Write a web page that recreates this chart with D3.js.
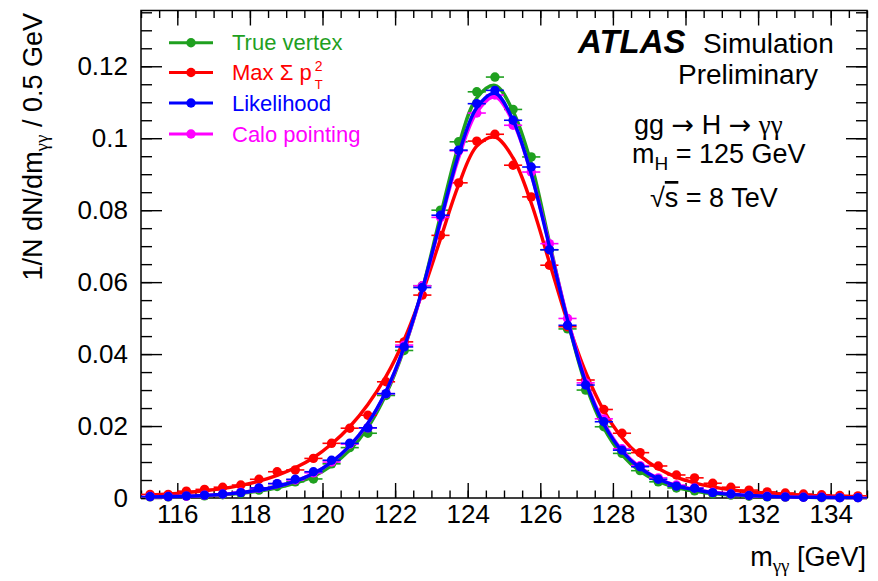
<!DOCTYPE html>
<html>
<head>
<meta charset="utf-8">
<script src="https://cdn.jsdelivr.net/npm/d3@7"></script>
<style>
body { margin: 0; background: #fff; }
svg { font-family: "Liberation Sans", Arial, Helvetica, sans-serif; }
.greek { font-family: "Liberation Serif", "DejaVu Serif", serif; }
.arrow { font-family: "DejaVu Sans", sans-serif; }
</style>
</head>
<body>
<svg width="878" height="581"></svg>
<script>
// bin centres, 0.5 GeV bins
const MASS = [115.25, 115.75, 116.25, 116.75, 117.25, 117.75, 118.25, 118.75, 119.25, 119.75,
              120.25, 120.75, 121.25, 121.75, 122.25, 122.75, 123.25, 123.75, 124.25, 124.75,
              125.25, 125.75, 126.25, 126.75, 127.25, 127.75, 128.25, 128.75, 129.25, 129.75,
              130.25, 130.75, 131.25, 131.75, 132.25, 132.75, 133.25, 133.75, 134.25, 134.75];

// points (1/N dN/dm)
const TRUE_VERTEX = [0.0003, 0.0003, 0.0005, 0.0006, 0.0009, 0.0013, 0.0022, 0.0032, 0.0045, 0.0053,
                     0.0095, 0.0140, 0.0180, 0.0285, 0.0410, 0.0590, 0.0800, 0.0990, 0.1129, 0.1170,
                     0.1080, 0.0948, 0.0690, 0.0470, 0.0300, 0.0198, 0.0124, 0.0076, 0.0045, 0.0028,
                     0.0020, 0.0012, 0.0008, 0.0005, 0.0003, 0.0002, 0.0002, 0.0001, 0.0001, 0.0001];
const MAX_SUMPT2 = [0.0010, 0.0010, 0.0019, 0.0024, 0.0030, 0.0036, 0.0052, 0.0073, 0.0078, 0.0110,
                    0.0152, 0.0194, 0.0230, 0.0323, 0.0434, 0.0564, 0.0730, 0.0876, 0.0992, 0.1011,
                    0.0925, 0.0837, 0.0647, 0.0476, 0.0328, 0.0246, 0.0180, 0.0126, 0.0089, 0.0064,
                    0.0056, 0.0041, 0.0030, 0.0022, 0.0017, 0.0014, 0.0011, 0.0009, 0.0007, 0.0006];
const LIKELIHOOD = [0.0004, 0.0004, 0.0006, 0.0008, 0.0011, 0.0015, 0.0028, 0.0040, 0.0052, 0.0073,
                    0.0105, 0.0152, 0.0195, 0.0290, 0.0420, 0.0585, 0.0786, 0.0967, 0.1096, 0.1133,
                    0.1050, 0.0920, 0.0690, 0.0480, 0.0314, 0.0212, 0.0133, 0.0087, 0.0052, 0.0033,
                    0.0027, 0.0015, 0.0011, 0.0007, 0.0004, 0.0003, 0.0002, 0.0002, 0.0001, 0.0001];
const CALO_POINTING = [0.0004, 0.0004, 0.0005, 0.0008, 0.0011, 0.0016, 0.0027, 0.0040, 0.0050, 0.0070,
                       0.0100, 0.0150, 0.0195, 0.0290, 0.0425, 0.0590, 0.0780, 0.0965, 0.1070, 0.1120,
                       0.1036, 0.0906, 0.0707, 0.0499, 0.0320, 0.0220, 0.0137, 0.0090, 0.0056, 0.0036,
                       0.0028, 0.0016, 0.0011, 0.0007, 0.0005, 0.0003, 0.0002, 0.0002, 0.0001, 0.0001];

// fitted curves read at the same bin centres
const FIT_TRUE_VERTEX = [0.0002, 0.0003, 0.0004, 0.0006, 0.0009, 0.0013, 0.0019, 0.0028, 0.0041, 0.0060,
                         0.0090, 0.0133, 0.0196, 0.0288, 0.0415, 0.0580, 0.0785, 0.0980, 0.1112, 0.1147,
                         0.1075, 0.0930, 0.0712, 0.0495, 0.0315, 0.0195, 0.0120, 0.0074, 0.0046, 0.0029,
                         0.0019, 0.0012, 0.0008, 0.0005, 0.0004, 0.0003, 0.0002, 0.0001, 0.0001, 0.0001];
const FIT_MAX_SUMPT2 = [0.0008, 0.0011, 0.0015, 0.0020, 0.0026, 0.0035, 0.0047, 0.0063, 0.0084, 0.0112,
                        0.0150, 0.0198, 0.0260, 0.0338, 0.0440, 0.0570, 0.0720, 0.0870, 0.0978, 0.1003,
                        0.0945, 0.0820, 0.0655, 0.0490, 0.0350, 0.0243, 0.0168, 0.0117, 0.0082, 0.0058,
                        0.0042, 0.0031, 0.0023, 0.0017, 0.0013, 0.0010, 0.0008, 0.0006, 0.0005, 0.0004];
const FIT_LIKELIHOOD = [0.0003, 0.0004, 0.0005, 0.0007, 0.0010, 0.0015, 0.0022, 0.0032, 0.0047, 0.0068,
                        0.0100, 0.0145, 0.0208, 0.0297, 0.0420, 0.0580, 0.0770, 0.0955, 0.1085, 0.1125,
                        0.1050, 0.0900, 0.0700, 0.0495, 0.0322, 0.0205, 0.0130, 0.0083, 0.0053, 0.0034,
                        0.0023, 0.0015, 0.0010, 0.0007, 0.0005, 0.0003, 0.0002, 0.0002, 0.0001, 0.0001];
const FIT_CALO_POINTING = [0.0003, 0.0004, 0.0005, 0.0007, 0.0010, 0.0015, 0.0022, 0.0032, 0.0047, 0.0068,
                           0.0100, 0.0145, 0.0207, 0.0295, 0.0418, 0.0576, 0.0765, 0.0945, 0.1072, 0.1115,
                           0.1045, 0.0900, 0.0705, 0.0500, 0.0328, 0.0210, 0.0133, 0.0085, 0.0054, 0.0035,
                           0.0024, 0.0016, 0.0011, 0.0007, 0.0005, 0.0003, 0.0002, 0.0002, 0.0001, 0.0001];

const X_TICKS = [116, 118, 120, 122, 124, 126, 128, 130, 132, 134];
const Y_TICKS = [0, 0.02, 0.04, 0.06, 0.08, 0.1, 0.12];
const Y_TICK_LABELS = ['0', '0.02', '0.04', '0.06', '0.08', '0.1', '0.12'];

const SERIES = [
    { label: 'True vertex',   color: '#1fa01f', points: TRUE_VERTEX,   fit: FIT_TRUE_VERTEX },
    { label: 'Max Σ p',       color: '#ff0000', points: MAX_SUMPT2,    fit: FIT_MAX_SUMPT2 },
    { label: 'Likelihood',    color: '#0000ff', points: LIKELIHOOD,    fit: FIT_LIKELIHOOD },
    { label: 'Calo pointing', color: '#ff00ff', points: CALO_POINTING, fit: FIT_CALO_POINTING },
];
const DRAW_ORDER = [0, 1, 3, 2]; // blue ends up on top

const PARAMS = { left: 141, right: 867, top: 10.5, bottom: 498 };

const svg = d3.select('svg');

const x = d3.scaleLinear().domain([115, 135]).range([PARAMS.left, PARAMS.right]);
const y = d3.scaleLinear().domain([0, 0.1355]).range([PARAMS.bottom, PARAMS.top]);

// ---- axes (ticks on all four sides, pointing inwards)
function styleAxis(g, fontSize) {
    g.select('.domain').remove();
    g.selectAll('.tick line').attr('stroke', '#000').attr('stroke-width', 1.4);
    g.selectAll('.tick text')
        .attr('fill', '#000')
        .style('font-size', fontSize + 'px')
        .style('font-family', '"Liberation Sans", Arial, sans-serif');
}
const xMinor = d3.range(115, 135.001, 0.5);
const yMinor = d3.range(0, 0.1355, 0.005);

svg.append('g').attr('transform', `translate(0,${PARAMS.bottom})`)
    .call(d3.axisBottom(x).tickValues(xMinor).tickSize(-7.5).tickFormat(''))
    .call(g => styleAxis(g, 26));
svg.append('g').attr('transform', `translate(0,${PARAMS.bottom})`)
    .call(d3.axisBottom(x).tickValues(X_TICKS).tickSize(-15).tickPadding(7).tickFormat(d3.format('d')))
    .call(g => styleAxis(g, 26));
svg.append('g').attr('transform', `translate(0,${PARAMS.top})`)
    .call(d3.axisTop(x).tickValues(xMinor).tickSize(-7.5).tickFormat(''))
    .call(g => styleAxis(g, 26));
svg.append('g').attr('transform', `translate(0,${PARAMS.top})`)
    .call(d3.axisTop(x).tickValues(X_TICKS).tickSize(-15).tickFormat(''))
    .call(g => styleAxis(g, 26));

svg.append('g').attr('transform', `translate(${PARAMS.left},0)`)
    .call(d3.axisLeft(y).tickValues(yMinor).tickSize(-11).tickFormat(''))
    .call(g => styleAxis(g, 26));
svg.append('g').attr('transform', `translate(${PARAMS.left},0)`)
    .call(d3.axisLeft(y).tickValues(Y_TICKS).tickSize(-21).tickPadding(13).tickFormat((d, i) => Y_TICK_LABELS[i]))
    .call(g => styleAxis(g, 26));
svg.append('g').attr('transform', `translate(${PARAMS.right},0)`)
    .call(d3.axisRight(y).tickValues(yMinor).tickSize(-11).tickFormat(''))
    .call(g => styleAxis(g, 26));
svg.append('g').attr('transform', `translate(${PARAMS.right},0)`)
    .call(d3.axisRight(y).tickValues(Y_TICKS).tickSize(-21).tickFormat(''))
    .call(g => styleAxis(g, 26));

svg.append('rect')
    .attr('x', PARAMS.left).attr('y', PARAMS.top)
    .attr('width', PARAMS.right - PARAMS.left).attr('height', PARAMS.bottom - PARAMS.top)
    .attr('fill', 'none').attr('stroke', '#000').attr('stroke-width', 1.5);

// ---- data
const line = d3.line()
    .x(d => x(d[0]))
    .y(d => y(d[1]))
    .curve(d3.curveCatmullRom.alpha(0.5));

const plot = svg.append('g');
DRAW_ORDER.forEach(si => {
    const s = SERIES[si];
    const g = plot.append('g');
    const pts = MASS.map((m, i) => [m, s.points[i]]);

    g.selectAll('.xerr')
        .data(pts)
        .enter()
        .append('line')
        .attr('x1', d => x(d[0] - 0.25))
        .attr('x2', d => x(d[0] + 0.25))
        .attr('y1', d => y(d[1]))
        .attr('y2', d => y(d[1]))
        .attr('stroke', s.color)
        .attr('stroke-width', 1.6);

    g.append('path')
        .attr('d', line(MASS.map((m, i) => [m, s.fit[i]])))
        .attr('fill', 'none')
        .attr('stroke', s.color)
        .attr('stroke-width', 3.4);

    g.selectAll('.marker')
        .data(pts)
        .enter()
        .append('circle')
        .attr('cx', d => x(d[0]))
        .attr('cy', d => y(d[1]))
        .attr('r', 4.7)
        .attr('fill', s.color);
});

// ---- legend
const legend = svg.append('g');
const LEGEND_Y = [42.7, 72.5, 103, 134];
SERIES.forEach((s, i) => {
    const ly = LEGEND_Y[i];
    legend.append('line')
        .attr('x1', 169).attr('x2', 213).attr('y1', ly).attr('y2', ly)
        .attr('stroke', s.color).attr('stroke-width', 3);
    legend.append('circle')
        .attr('cx', 191).attr('cy', ly).attr('r', 4.7).attr('fill', s.color);
    const t = legend.append('text')
        .attr('x', 232).attr('y', ly + 7.5)
        .attr('fill', s.color)
        .style('font-size', '22px')
        .text(s.label);
    if (i === 1) {
        // p_T^2 : superscript and subscript stacked after the "p"
        const w = t.node().getComputedTextLength();
        legend.append('text').attr('x', 232 + w + 3).attr('y', ly - 2)
            .attr('fill', s.color).style('font-size', '14px').text('2');
        legend.append('text').attr('x', 232 + w + 3).attr('y', ly + 16)
            .attr('fill', s.color).style('font-size', '13px').text('T');
    }
});

// ---- labels
const label = svg.append('g').attr('fill', '#000');

label.append('text')
    .attr('x', 578).attr('y', 53)
    .style('font-size', '33px').style('font-weight', 'bold').style('font-style', 'italic')
    .text('ATLAS');
label.append('text').attr('x', 703).attr('y', 53).style('font-size', '28px').text('Simulation');
label.append('text').attr('x', 818).attr('y', 84).attr('text-anchor', 'end').style('font-size', '28px').text('Preliminary');

const proc = label.append('text').attr('x', 634).attr('y', 134).style('font-size', '27px');
proc.append('tspan').text('gg ');
proc.append('tspan').attr('class', 'arrow').text('→');
proc.append('tspan').text(' H ');
proc.append('tspan').attr('class', 'arrow').text('→');
proc.append('tspan').text(' ');
proc.append('tspan').attr('class', 'greek').text('γγ');

const mh = label.append('text').attr('x', 632).attr('y', 163).style('font-size', '27px');
mh.append('tspan').text('m');
mh.append('tspan').attr('dy', 7).style('font-size', '19px').text('H');
mh.append('tspan').attr('dy', -7).text(' = 125 GeV');

const rs = label.append('text').attr('x', 650).attr('y', 207).style('font-size', '27px');
rs.append('tspan').text('√');
rs.append('tspan').style('text-decoration', 'overline').text('s');
rs.append('tspan').text(' = 8 TeV');

// axis titles
const yt = label.append('text')
    .attr('transform', 'translate(42,13) rotate(-90)')
    .attr('text-anchor', 'end')
    .style('font-size', '27px');
yt.append('tspan').text('1/N dN/dm');
yt.append('tspan').attr('dy', 6).attr('class', 'greek').style('font-size', '19px').text('γγ');
yt.append('tspan').attr('dy', -6).text(' / 0.5 GeV');

const xt = label.append('text')
    .attr('x', 866).attr('y', 566)
    .attr('text-anchor', 'end')
    .style('font-size', '27px');
xt.append('tspan').text('m');
xt.append('tspan').attr('dy', 6).attr('class', 'greek').style('font-size', '19px').text('γγ');
xt.append('tspan').attr('dy', -6).text(' [GeV]');
</script>
</body>
</html>
